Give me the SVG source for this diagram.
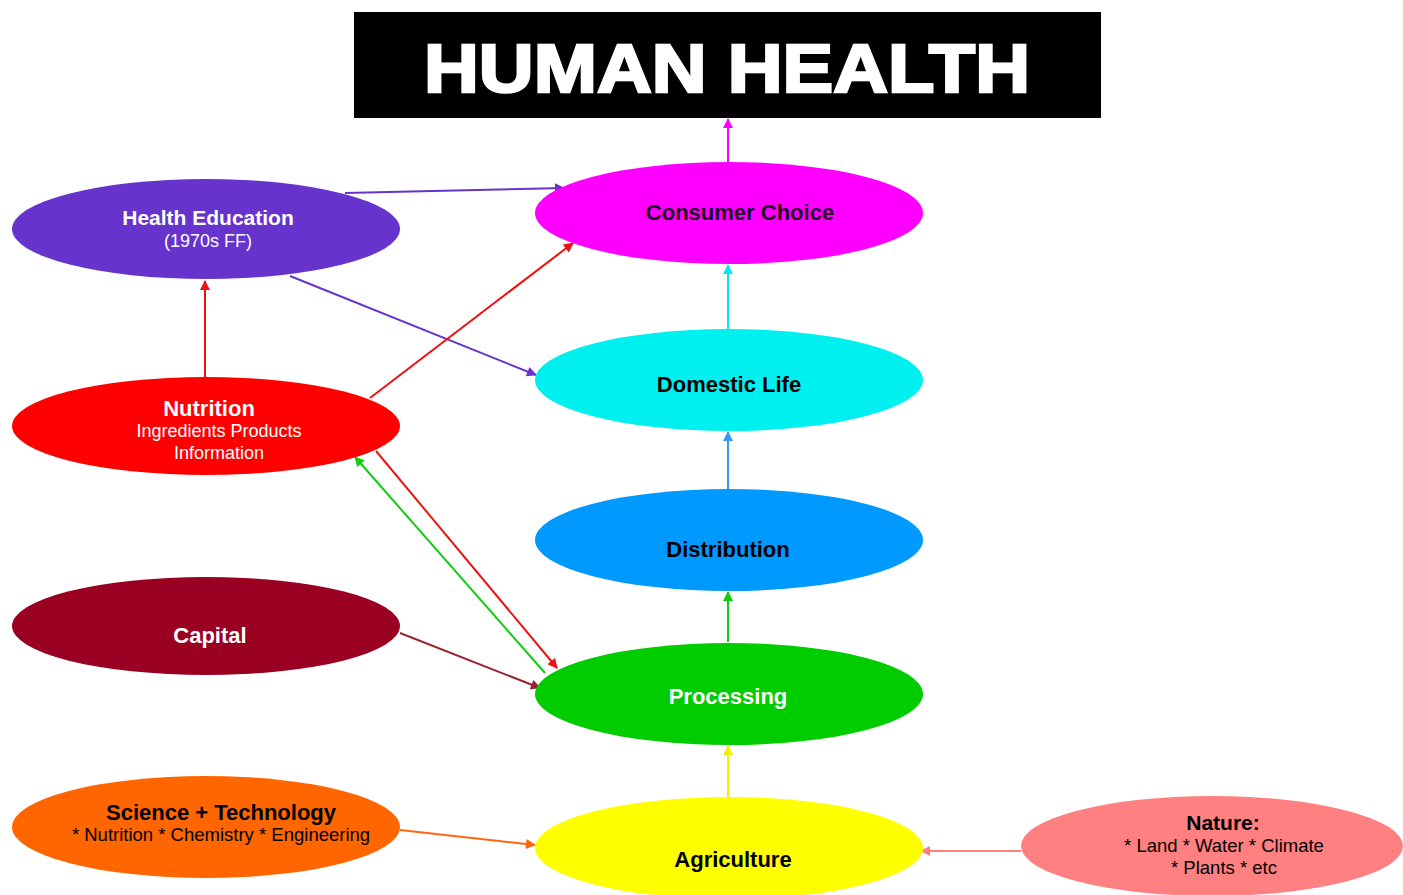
<svg xmlns="http://www.w3.org/2000/svg" width="1403" height="895" viewBox="0 0 1403 895">
<style>
.t{font-family:"Liberation Sans",Arial,sans-serif;text-anchor:middle}
.b{font-weight:bold;font-size:22px}
.s{font-size:18px}
.w{fill:#fff}
.k{fill:#000}
.c line{stroke-width:2;fill:none}
</style>
<defs>
<marker id="aM" viewBox="0 0 10 10" refX="9" refY="5" markerWidth="12" markerHeight="10" markerUnits="userSpaceOnUse" orient="auto"><path d="M0,0L10,5L0,10z" fill="#ff00ff"/></marker>
<marker id="aC" viewBox="0 0 10 10" refX="9" refY="5" markerWidth="12" markerHeight="10" markerUnits="userSpaceOnUse" orient="auto"><path d="M0,0L10,5L0,10z" fill="#00e8f0"/></marker>
<marker id="aB" viewBox="0 0 10 10" refX="9" refY="5" markerWidth="12" markerHeight="10" markerUnits="userSpaceOnUse" orient="auto"><path d="M0,0L10,5L0,10z" fill="#3399ee"/></marker>
<marker id="aG" viewBox="0 0 10 10" refX="9" refY="5" markerWidth="12" markerHeight="10" markerUnits="userSpaceOnUse" orient="auto"><path d="M0,0L10,5L0,10z" fill="#11cc11"/></marker>
<marker id="aY" viewBox="0 0 10 10" refX="9" refY="5" markerWidth="12" markerHeight="10" markerUnits="userSpaceOnUse" orient="auto"><path d="M0,0L10,5L0,10z" fill="#f0f000"/></marker>
<marker id="aP" viewBox="0 0 10 10" refX="9" refY="5" markerWidth="12" markerHeight="10" markerUnits="userSpaceOnUse" orient="auto"><path d="M0,0L10,5L0,10z" fill="#6633cc"/></marker>
<marker id="aR" viewBox="0 0 10 10" refX="9" refY="5" markerWidth="12" markerHeight="10" markerUnits="userSpaceOnUse" orient="auto"><path d="M0,0L10,5L0,10z" fill="#ee1111"/></marker>
<marker id="aD" viewBox="0 0 10 10" refX="9" refY="5" markerWidth="12" markerHeight="10" markerUnits="userSpaceOnUse" orient="auto"><path d="M0,0L10,5L0,10z" fill="#992233"/></marker>
<marker id="aO" viewBox="0 0 10 10" refX="9" refY="5" markerWidth="12" markerHeight="10" markerUnits="userSpaceOnUse" orient="auto"><path d="M0,0L10,5L0,10z" fill="#ff6611"/></marker>
<marker id="aK" viewBox="0 0 10 10" refX="9" refY="5" markerWidth="12" markerHeight="10" markerUnits="userSpaceOnUse" orient="auto"><path d="M0,0L10,5L0,10z" fill="#ff8080"/></marker>
</defs>
<rect width="1403" height="895" fill="#fff"/>
<g id="title">
<rect x="354" y="12" width="747" height="106" fill="#000"/>
<text class="t" x="727" y="92" font-size="68" font-weight="bold" fill="#fff" stroke="#fff" stroke-width="2.5" textLength="606" lengthAdjust="spacingAndGlyphs">HUMAN HEALTH</text>
</g>
<g id="connectors" class="c">
<line x1="728" y1="162" x2="728" y2="119" stroke="#ff00ff" marker-end="url(#aM)"/>
<line x1="728" y1="329" x2="728" y2="265" stroke="#00e8f0" marker-end="url(#aC)"/>
<line x1="728" y1="489" x2="728" y2="432" stroke="#3399ee" marker-end="url(#aB)"/>
<line x1="728" y1="642" x2="728" y2="592" stroke="#11cc11" marker-end="url(#aG)"/>
<line x1="728" y1="797" x2="728" y2="746" stroke="#f0f000" marker-end="url(#aY)"/>
<line x1="345" y1="193" x2="564" y2="188" stroke="#6633cc" marker-end="url(#aP)"/>
<line x1="290" y1="276" x2="536" y2="375" stroke="#6633cc" marker-end="url(#aP)"/>
<line x1="205" y1="377" x2="205" y2="281" stroke="#ee1111" marker-end="url(#aR)"/>
<line x1="370" y1="398" x2="573" y2="243" stroke="#ee1111" marker-end="url(#aR)"/>
<line x1="376" y1="451" x2="557" y2="668" stroke="#ee1111" marker-end="url(#aR)"/>
<line x1="545" y1="673" x2="355" y2="457" stroke="#11cc11" marker-end="url(#aG)"/>
<line x1="400" y1="633" x2="540" y2="688" stroke="#992233" marker-end="url(#aD)"/>
<line x1="400" y1="830" x2="535" y2="845" stroke="#ff6611" marker-end="url(#aO)"/>
<line x1="1021" y1="851" x2="921" y2="851" stroke="#ff8080" marker-end="url(#aK)"/>
</g>
<g id="consumer-choice">
<ellipse cx="729" cy="213" rx="194" ry="51" fill="#ff00ff"/>
<text class="t b" x="740" y="220" fill="#220022">Consumer Choice</text>
</g>
<g id="domestic-life">
<ellipse cx="729" cy="380" rx="194" ry="51" fill="#00f0f0"/>
<text class="t b k" x="729" y="392">Domestic Life</text>
</g>
<g id="distribution">
<ellipse cx="729" cy="540" rx="194" ry="51" fill="#0099ff"/>
<text class="t b k" x="728" y="557">Distribution</text>
</g>
<g id="processing">
<ellipse cx="729" cy="694" rx="194" ry="51" fill="#00cc00"/>
<text class="t b w" x="728" y="704">Processing</text>
</g>
<g id="agriculture">
<ellipse cx="729" cy="848" rx="194" ry="51" fill="#ffff00"/>
<text class="t b k" x="733" y="867">Agriculture</text>
</g>
<g id="health-education">
<ellipse cx="206" cy="229" rx="194" ry="50" fill="#6633cc"/>
<text class="t w" x="208" y="225" font-size="21" font-weight="bold">Health Education</text>
<text class="t s w" x="208" y="247">(1970s FF)</text>
</g>
<g id="nutrition">
<ellipse cx="206" cy="426" rx="194" ry="49" fill="#ff0000"/>
<text class="t b w" x="209" y="416">Nutrition</text>
<text class="t s w" x="219" y="437">Ingredients Products</text>
<text class="t s w" x="219" y="459">Information</text>
</g>
<g id="capital">
<ellipse cx="206" cy="626" rx="194" ry="49" fill="#990022"/>
<text class="t b w" x="210" y="643">Capital</text>
</g>
<g id="science-technology">
<ellipse cx="206" cy="827" rx="194" ry="51" fill="#ff6600"/>
<text class="t b k" x="221" y="820">Science + Technology</text>
<text class="t k" x="221" y="841" font-size="18.5">* Nutrition * Chemistry * Engineering</text>
</g>
<g id="nature">
<ellipse cx="1212" cy="846" rx="191" ry="50" fill="#ff8080"/>
<text class="t k" x="1223" y="830" font-size="21" font-weight="bold">Nature:</text>
<text class="t k" x="1224" y="852" font-size="18.5">* Land * Water * Climate</text>
<text class="t k" x="1224" y="874" font-size="18.5">* Plants * etc</text>
</g>
</svg>
